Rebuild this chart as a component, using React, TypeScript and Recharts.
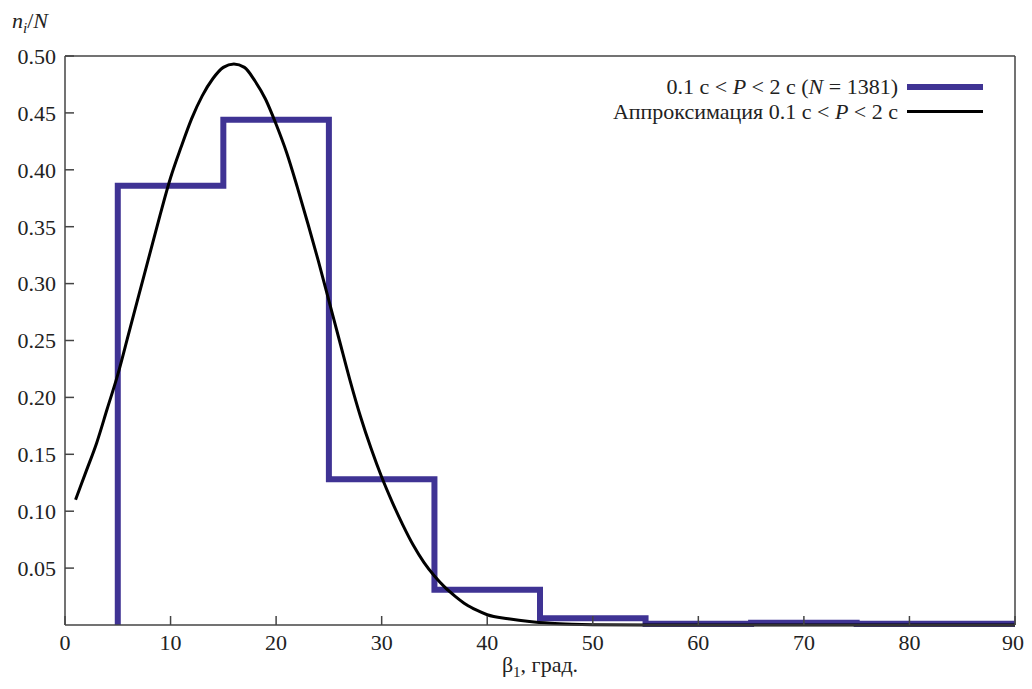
import { LineChart, Line, XAxis, YAxis, ReferenceLine, Legend } from "recharts";

// histogram (step), edges of bins in degrees and n_i/N
const binEdges = [5, 5, 15, 25, 35, 45, 55, 65, 75, 90];
const binFreq = [0, 0.386, 0.444, 0.128, 0.031, 0.006, 0.001, 0.002, 0.001, 0.001];

// fitted curve
const fitAngles = [
  1, 2, 3, 4, 5, 6, 7, 8, 9, 10, 11, 12, 13, 14, 15, 16, 17, 18, 19, 20, 21, 22,
  23, 24, 25, 26, 27, 28, 29, 30, 31, 32, 33, 34, 35, 36, 37, 38, 39, 40, 42, 44,
  46, 48, 50, 55, 60, 70, 80, 90,
];
const fitValues = [
  0.11, 0.135, 0.16, 0.19, 0.22, 0.255, 0.29, 0.325, 0.36, 0.393, 0.42, 0.445,
  0.465, 0.48, 0.49, 0.493, 0.49, 0.478, 0.462, 0.44, 0.415, 0.385, 0.353, 0.32,
  0.285, 0.25, 0.215, 0.183, 0.155, 0.13, 0.108, 0.088, 0.07, 0.055, 0.043,
  0.033, 0.025, 0.018, 0.013, 0.009, 0.0055, 0.003, 0.0015, 0.0007, 0.0003, 0,
  0, 0, 0, 0,
];

const xTicks = [0, 10, 20, 30, 40, 50, 60, 70, 80, 90];
const yTicks = [0.05, 0.1, 0.15, 0.2, 0.25, 0.3, 0.35, 0.4, 0.45, 0.5];

const histData = binEdges.map((x, i) => ({ x, y: binFreq[i] }));
const fitData = fitAngles.map((x, i) => ({ x, y: fitValues[i] }));

// Liberation Serif stays Times-like only up to 22px here
const FONT = "Liberation Serif";
const FS = 22;
const AXIS = "#444";
const PURPLE = "#3f3394";

const seriesOrder = ["hist", "fit"];
const legendLabels: Record<string, any> = {
  hist: (
    <span>
      0.1 с &lt; <i>P</i> &lt; 2 с (<i>N</i> = 1381)
    </span>
  ),
  fit: (
    <span>
      Аппроксимация 0.1 с &lt; <i>P</i> &lt; 2 с
    </span>
  ),
};

const LegendBox = (props: any) => {
  const items = [...(props.payload || [])].sort(
    (a: any, b: any) => seriesOrder.indexOf(a.value) - seriesOrder.indexOf(b.value)
  );
  return (
    <div style={{ fontFamily: FONT, fontSize: FS, color: "#222" }}>
      {items.map((p: any) => (
        <div
          key={p.value}
          style={{
            display: "flex",
            justifyContent: "flex-end",
            alignItems: "center",
            height: 25,
            whiteSpace: "nowrap",
          }}
        >
          {legendLabels[p.value]}
          <span
            style={{
              display: "inline-block",
              width: 76,
              marginLeft: 9,
              borderTop: `${p.value === "hist" ? 6 : 3}px solid ${p.color}`,
            }}
          />
        </div>
      ))}
    </div>
  );
};

const XTitle = (props: any) => {
  const vb = props.viewBox;
  return (
    <text
      x={vb.x + vb.width / 2}
      y={vb.y + 47}
      textAnchor="middle"
      fontFamily={FONT}
      fontSize={FS}
      fill="#222"
    >
      β<tspan fontSize={15} dy={5}>1</tspan>
      <tspan dy={-5}>, град.</tspan>
    </text>
  );
};

const YTitle = (props: any) => {
  const vb = props.viewBox;
  return (
    <text x={vb.x + 4} y={vb.y - 28} fontFamily={FONT} fontSize={FS} fill="#222">
      <tspan fontStyle="italic">n</tspan>
      <tspan fontStyle="italic" fontSize={15} dy={5}>i</tspan>
      <tspan dy={-5}>/</tspan>
      <tspan fontStyle="italic">N</tspan>
    </text>
  );
};

export default function App() {
  return (
    <LineChart
      width={1016}
      height={673}
      margin={{ top: 48, right: 9, left: 0, bottom: 0 }}
    >
      <XAxis
        type="number"
        dataKey="x"
        domain={[0, 90]}
        ticks={xTicks}
        height={56}
        stroke={AXIS}
        strokeWidth={1.5}
        tickSize={-9}
        tickMargin={18}
        tick={{ fill: "#222", fontSize: FS, fontFamily: FONT }}
        label={<XTitle />}
      />
      <YAxis
        type="number"
        dataKey="y"
        domain={[0, 0.5]}
        ticks={yTicks}
        width={57}
        stroke={AXIS}
        strokeWidth={1.5}
        tickSize={-9}
        tickMargin={18}
        tickFormatter={(v: number) => v.toFixed(2)}
        tick={{ fill: "#222", fontSize: FS, fontFamily: FONT }}
        label={<YTitle />}
      />
      <ReferenceLine y={0.5} stroke={AXIS} strokeWidth={1.5} />
      <ReferenceLine x={90} stroke={AXIS} strokeWidth={1.5} />
      <Legend
        layout="horizontal"
        verticalAlign="middle"
        align="center"
        content={<LegendBox />}
        wrapperStyle={{ top: 66, right: 41, left: "auto", width: "auto" }}
      />
      <Line
        data={histData}
        dataKey="y"
        name="hist"
        type="stepAfter"
        stroke={PURPLE}
        strokeWidth={6}
        dot={false}
        activeDot={false}
        isAnimationActive={false}
      />
      <Line
        data={fitData}
        dataKey="y"
        name="fit"
        type="monotone"
        stroke="#000"
        strokeWidth={3}
        dot={false}
        activeDot={false}
        isAnimationActive={false}
      />
    </LineChart>
  );
}
